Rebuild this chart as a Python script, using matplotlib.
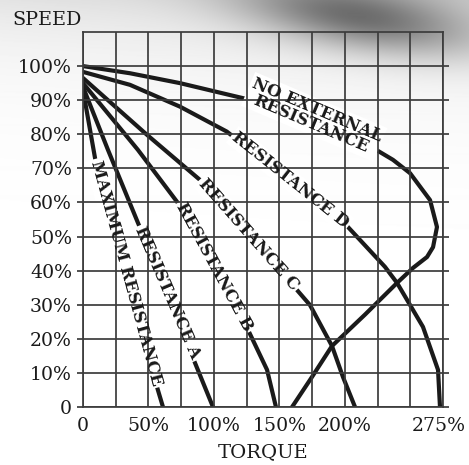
"""
Speed-torque curves of a wound-rotor motor for several rotor resistances.
"""
import numpy as np
import matplotlib
matplotlib.use("Agg")
import matplotlib.pyplot as plt
from matplotlib.transforms import ScaledTranslation

# --- data (torque in % of rated, speed in % of synchronous) -------------
noext_torque = [0, 35.9, 74.1, 127.6, 221.5, 236.8, 249.8, 265.1, 270.4, 267.4,
                262.8, 252.1, 239.9, 215.4, 190.2, 174.9, 159.7]
noext_speed = [100, 97.9, 95.0, 90.1, 76.0, 72.5, 68.6, 60.7, 52.8, 46.9,
               44.0, 40.8, 36.4, 27.1, 17.9, 8.8, 0]

resd_torque = [0, 35.9, 74.1, 109.8, 158.1, 202.4, 230.7, 239.9, 259.7, 271.2, 272.7]
resd_speed = [98.3, 94.5, 88.1, 80.8, 66.3, 52.8, 41.1, 36.4, 23.5, 10.9, 0]

resc_torque = [0, 48.1, 89.4, 126.1, 163.5, 173.4, 190.2, 198.6, 207.8]
resc_speed = [96.5, 80.1, 66.6, 50.5, 34.3, 29.9, 17.9, 8.8, 0]

resb_torque = [0, 42, 72.6, 100.1, 126.1, 140.6, 147.4]
resb_speed = [95.0, 75.4, 59.8, 41.1, 22.6, 10.9, 0]

resa_torque = [0, 19.1, 42, 64.6, 85.6, 99.3]
resa_speed = [93.9, 75.4, 54, 33.3, 12.9, 0]

maxr_torque = [0, 9.2, 31.7, 56.5, 61.1]
maxr_speed = [93, 73, 39.2, 5.9, 0]

curve_labels = ["NO EXTERNAL\nRESISTANCE", "RESISTANCE D", "RESISTANCE C",
                "RESISTANCE B", "RESISTANCE A", "MAXIMUM RESISTANCE"]
label_torque = [176.6, 158.3, 126.5, 100, 64.6, 32.8]
label_speed = [85.1, 66.5, 50.6, 41, 33.4, 39.2]
label_angle = [-23, -38.4, -48.6, -61.5, -66.7, -74.7]

x_ticks = [0, 25, 50, 75, 100, 125, 150, 175, 200, 225, 250, 275]
x_ticklabels = ["0", "", "50%", "", "100%", "", "150%", "", "200%", "", "", "275%"]
y_ticks = [0, 10, 20, 30, 40, 50, 60, 70, 80, 90, 100]
y_ticklabels = ["0", "10%", "20%", "30%", "40%", "50%", "60%", "70%", "80%", "90%", "100%"]

W, H = 469, 465
INK = "#1a1a1a"
GRID = "#3c3c3c"
SERIF = "DejaVu Serif"

fig = plt.figure(figsize=(W / 100, H / 100), dpi=100)

# scanned-page shading at the top
bg = fig.add_axes([0, 0, 1, 1], zorder=-1)
yy, xx = np.mgrid[0:H, 0:W]
wash = 0.18 * np.exp(-yy / 60.0) * (0.6 + 0.4 * xx / W)
streak = 0.45 * np.exp(-((xx - 360) / 115.0) ** 2
                       - ((yy - 18 - 0.15 * (xx - 360)) / 32.0) ** 2)
bg.imshow(np.clip(1 - wash - streak, 0, 1), cmap="gray", vmin=0, vmax=1,
          extent=[0, W, H, 0], aspect="auto", interpolation="bilinear")
bg.axis("off")

ax = fig.add_axes([83 / W, 1 - 407 / H, 360 / W, 375 / H])
ax.patch.set_alpha(0)

for t, s in [(noext_torque, noext_speed), (resd_torque, resd_speed),
             (resc_torque, resc_speed), (resb_torque, resb_speed),
             (resa_torque, resa_speed), (maxr_torque, maxr_speed)]:
    ax.plot(t, s, color=INK, lw=3.0, solid_joinstyle="round", zorder=2)

# white gaps in the curves under the labels, then the label text on top
for txt, tx, ty, ang in zip(curve_labels, label_torque, label_speed, label_angle):
    kw = dict(rotation=ang, rotation_mode="anchor", ha="center", va="center",
              multialignment="center", family=SERIF, fontweight="bold",
              fontsize=12, linespacing=0.9)
    ax.text(tx, ty, txt, color="none", zorder=2.2,
            bbox=dict(boxstyle="square,pad=0.12", fc="white", ec="none"), **kw)
    ax.text(tx, ty, txt, color=INK, zorder=3, **kw)

ax.set_xlim(0, 275)
ax.set_ylim(0, 110)
ax.set_xticks(x_ticks)
ax.set_xticklabels(x_ticklabels)
ax.set_yticks(y_ticks)
ax.set_yticklabels(y_ticklabels)
ax.set_axisbelow(False)
ax.grid(True, color=GRID, lw=1.25)
ax.tick_params(axis="x", length=0, pad=7, labelsize=13.6, labelcolor=INK)
ax.tick_params(axis="y", length=4, width=1.25, color=GRID, left=True, right=True,
               direction="out", pad=4, labelsize=13.6, labelcolor=INK)
for lab in ax.get_xticklabels() + ax.get_yticklabels():
    lab.set_family(SERIF)
# last torque label sits a little left, inside the page
last = ax.xaxis.get_major_ticks()[-1].label1
last.set_transform(last.get_transform() + ScaledTranslation(-4 / 100, 0, fig.dpi_scale_trans))
for sp in ax.spines.values():
    sp.set_color(GRID)
    sp.set_linewidth(1.25)

fig.text(47 / W, 1 - 20 / H, "SPEED", family=SERIF, fontsize=13.8, color=INK,
         ha="center", va="center")
fig.text(263 / W, 1 - 452 / H, "TORQUE", family=SERIF, fontsize=14, color=INK,
         ha="center", va="center")

fig.savefig("out.png", dpi=100)
